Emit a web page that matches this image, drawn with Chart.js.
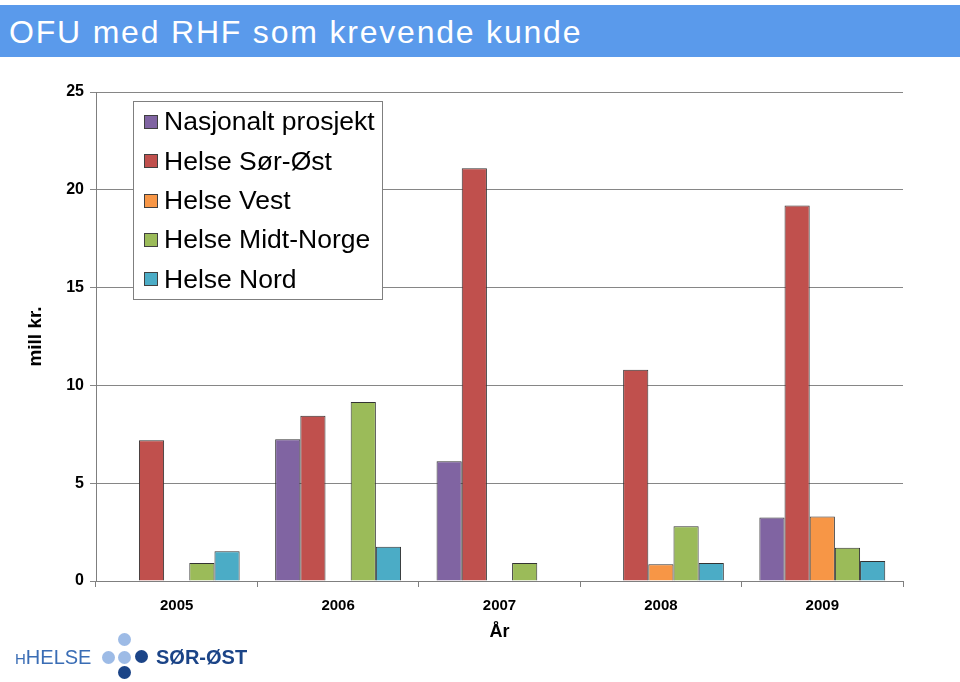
<!DOCTYPE html>
<html>
<head>
<meta charset="utf-8">
<script src="https://cdn.jsdelivr.net/npm/chart.js@4"></script>
<style>
  html, body { margin: 0; padding: 0; background: #fff; }
  #page { position: relative; width: 960px; height: 682px; overflow: hidden; }
  #header {
    position: absolute; left: 0; top: 5px; width: 960px; height: 52px;
    background: #5A9AEB; color: #fff;
    font-family: "Liberation Sans", Arial, sans-serif; font-size: 32px;
    letter-spacing: 1.8px; line-height: 54px; padding-left: 9px; box-sizing: border-box;
  }
  #chart { position: absolute; left: 0; top: 0; }
  #logo { position: absolute; left: 0; top: 628px; width: 260px; height: 54px; }
  #logo .helse { position: absolute; left: 15px; top: 18px; font-family: "Liberation Sans", Arial, sans-serif;
    font-size: 20px; color: #3A6DB5; }
  #logo .helse small { font-size: 15px; }
  #logo .sor { position: absolute; left: 156px; top: 18px; font-family: "Liberation Sans", Arial, sans-serif;
    font-size: 20px; font-weight: bold; color: #1B4487; }
  #logo .dot { position: absolute; width: 13px; height: 13px; border-radius: 50%; }
</style>
</head>
<body>
<div id="page">
  <canvas id="chart" width="960" height="682"></canvas>
  <div id="header">OFU med RHF som krevende kunde</div>
  <div id="logo">
    <div class="helse"><small>H</small>HELSE</div>
    <div class="dot" style="left:102px;top:23px;background:#9DBBE6"></div>
    <div class="dot" style="left:118px;top:5px;background:#9DBBE6"></div>
    <div class="dot" style="left:118px;top:23px;background:#9DBBE6"></div>
    <div class="dot" style="left:135px;top:22px;background:#1B4487"></div>
    <div class="dot" style="left:118px;top:38px;background:#1B4487"></div>
    <div class="sor">SØR-ØST</div>
  </div>
</div>
<script>
var years = ['2005', '2006', '2007', '2008', '2009'];
var seriesNames = ['Nasjonalt prosjekt', 'Helse Sør-Øst', 'Helse Vest', 'Helse Midt-Norge', 'Helse Nord'];
var nasjonalt = [null, 7.25, 6.12, null, 3.25];
var sorOst = [7.2, 8.45, 21.1, 10.8, 19.2];
var vest = [null, null, null, 0.85, 3.3];
var midtNorge = [0.92, 9.15, 0.92, 2.8, 1.7];
var nord = [1.52, 1.75, null, 0.92, 1.02];
var yTicks = [0, 5, 10, 15, 20, 25];
var colors = ['#8064A2', '#C0504D', '#F79646', '#9BBB59', '#4BACC6'];

var allSeries = [nasjonalt, sorOst, vest, midtNorge, nord];
var fontFam = '"Liberation Sans", Arial, sans-serif';

// legend drawn as a box inside the plot area, like the original
var legendBox = {
    id: 'legendBox',
    afterDraw: function (chart) {
        var ctx = chart.ctx;
        var x = 133.5, y = 101.5, w = 249, h = 198;
        ctx.save();
        ctx.fillStyle = '#fff';
        ctx.fillRect(x, y, w, h);
        ctx.strokeStyle = '#7f7f7f';
        ctx.lineWidth = 1;
        ctx.strokeRect(x, y, w, h);
        ctx.font = '26.5px ' + fontFam;
        ctx.textBaseline = 'middle';
        chart.data.datasets.forEach(function (ds, i) {
            var cy = 122 + i * 39.3;
            ctx.fillStyle = ds.backgroundColor;
            ctx.fillRect(144.5, Math.round(cy - 7) + 0.5, 13, 13);
            ctx.strokeStyle = '#404040';
            ctx.strokeRect(144.5, Math.round(cy - 7) + 0.5, 13, 13);
            ctx.fillStyle = '#000';
            ctx.fillText(ds.label, 164, cy + 1);
        });
        ctx.restore();
    }
};

var ctx = document.getElementById('chart').getContext('2d');
var myChart = new Chart(ctx, {
    type: 'bar',
    data: {
        labels: years,
        datasets: allSeries.map(function (vals, i) {
            return {
                label: seriesNames[i],
                data: vals,
                backgroundColor: colors[i],
                borderColor: '#333333',
                borderWidth: 1,
                categoryPercentage: 0.78,
                barPercentage: 1.0
            };
        })
    },
    options: {
        responsive: false,
        animation: false,
        layout: { padding: { left: 24, right: 57, top: 92, bottom: 39 } },
        plugins: {
            legend: { display: false },
            tooltip: { enabled: false }
        },
        scales: {
            x: {
                grid: { drawOnChartArea: false, drawTicks: true, tickLength: 6, color: '#7f7f7f', offset: true },
                border: { color: '#7f7f7f' },
                ticks: { padding: 10, color: '#000', font: { family: fontFam, size: 15, weight: 'bold' } },
                title: { display: true, text: 'År', color: '#000', padding: 0,
                    font: { family: fontFam, size: 18, weight: 'bold' } },
                afterFit: function (scale) { scale.height = 62; }
            },
            y: {
                min: 0,
                max: 25,
                afterBuildTicks: function (scale) {
                    scale.ticks = yTicks.map(function (v) { return { value: v }; });
                },
                grid: { color: '#868686', tickLength: 6 },
                border: { color: '#7f7f7f' },
                ticks: { padding: 6, color: '#000', font: { family: fontFam, size: 16, weight: 'bold' } },
                title: { display: true, text: 'mill kr.', color: '#000', padding: { top: 0, bottom: 0 },
                    font: { family: fontFam, size: 19, weight: 'bold' } },
                afterFit: function (scale) { scale.width = 72; }
            }
        }
    },
    plugins: [legendBox]
});
</script>
</body>
</html>
